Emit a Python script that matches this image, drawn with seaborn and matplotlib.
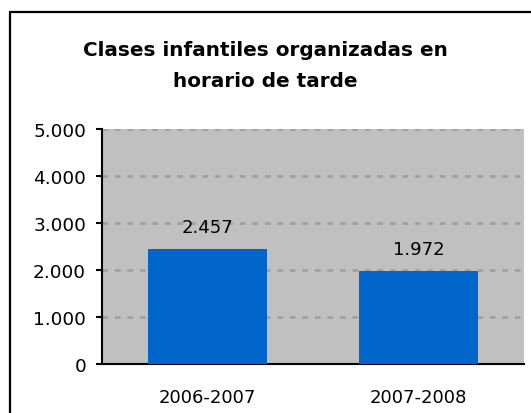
import matplotlib
matplotlib.use("Agg")
import matplotlib.pyplot as plt
import matplotlib.patches as mpatches
from matplotlib.ticker import FuncFormatter, MultipleLocator
import seaborn as sns
import pandas as pd

categories = ["2006-2007", "2007-2008"]
values = [2457, 1972]
value_labels = ["2.457", "1.972"]
title = "Clases infantiles organizadas en\nhorario de tarde"

sns.set_theme(style="white")
plt.rcParams["font.family"] = ["DejaVu Sans"]

W, H = 531, 414
fig = plt.figure(figsize=(W / 100, H / 100), dpi=100)
fig.patch.set_facecolor("white")

# outer frame
fig.add_artist(mpatches.Rectangle((10 / W, -0.1), 1.2, 1.1 - 13 / H,
                                  transform=fig.transFigure, fill=False,
                                  edgecolor="black", linewidth=1.6))

ax = fig.add_axes([102 / W, 1 - 365 / H, (524 - 102) / W, (365 - 130) / H])
ax.set_facecolor("#C0C0C0")

df = pd.DataFrame({"cat": categories, "val": values})
sns.barplot(data=df, x="cat", y="val", color="#0066CC", width=0.56,
            saturation=1, linewidth=0, edgecolor="none", ax=ax, zorder=3)

ax.set_ylim(0, 5000)
ax.set_xlim(-0.5, 1.5)
ax.yaxis.set_major_locator(MultipleLocator(1000))
ax.yaxis.set_major_formatter(FuncFormatter(lambda v, p: f"{int(v):,}".replace(",", ".")))
ax.grid(axis="y", color="#A0A0A0", linestyle=(0, (2, 2.5)), linewidth=2, zorder=1)
ax.set_axisbelow(True)

ax.set_xlabel("")
ax.set_ylabel("")
for s in ["top", "right"]:
    ax.spines[s].set_visible(False)
for s in ["left", "bottom"]:
    ax.spines[s].set_color("black")
    ax.spines[s].set_linewidth(1.5)

ax.set_xticks([-0.5, 0.5, 1.5], minor=False)
ax.set_xticklabels([])
ax.set_xticks([0, 1], minor=True)
ax.set_xticklabels(categories, minor=True)
ax.tick_params(axis="x", which="major", direction="out", length=4.5, width=1.5, color="black")
ax.tick_params(axis="x", which="minor", length=0, pad=17, labelsize=13, labelcolor="black")
ax.tick_params(axis="y", direction="out", length=4.5, width=1.5, color="black",
               labelsize=13.3, labelcolor="black", pad=7, left=True)

for i, (v, lab) in enumerate(zip(values, value_labels)):
    ax.annotate(lab, (i, v), xytext=(0, 15.8), textcoords="offset points",
                ha="center", va="center", fontsize=13, color="black")

fig.text(0.5, 1 - 66 / H, title, ha="center", va="center", fontsize=14.4,
         fontweight="bold", linespacing=1.75, color="black")

fig.savefig("out.png", dpi=100)
